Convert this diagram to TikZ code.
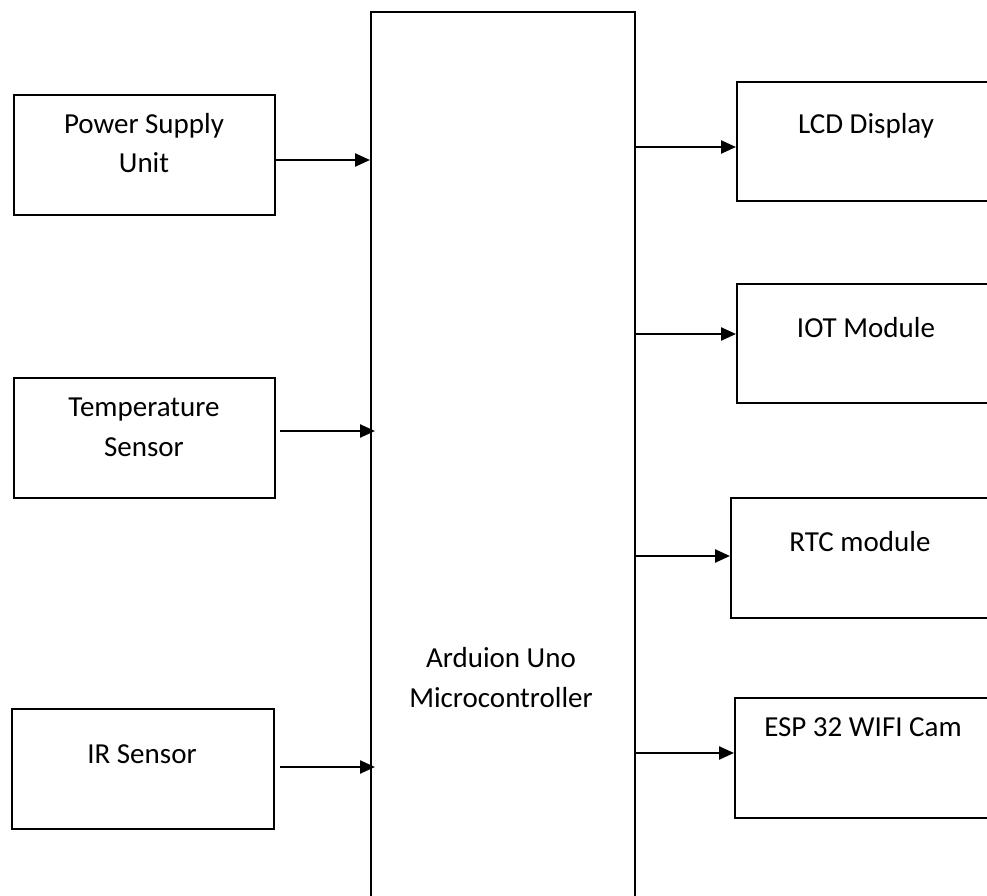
\documentclass[tikz,border=0pt]{standalone}
\usepackage{fontspec}
\setmainfont{Carlito}
\usetikzlibrary{arrows.meta}
\tikzset{
  blk/.style={draw=black, line width=2.4pt, rectangle, inner sep=0pt, anchor=north west},
  lbl/.style={anchor=base, inner sep=0pt, font=\fontsize{29}{36}\selectfont},
  arr/.style={line width=2.4pt, -{Triangle[length=15pt,width=13pt]}},
}
\begin{document}
\begin{tikzpicture}[x=1pt,y=-1pt]
\useasboundingbox (0,0) rectangle (987,896);
\clip (0,0) rectangle (987,896);
% main controller
\node[blk, minimum width=264pt, minimum height=910pt] (main) at (370,11) {};
% left blocks
\node[blk, minimum width=261pt, minimum height=120pt] (psu) at (13,94) {};
\node[blk, minimum width=261pt, minimum height=120pt] (temp) at (13,377) {};
\node[blk, minimum width=262pt, minimum height=120pt] (ir) at (11,708) {};
% right blocks (cut at the right edge)
\node[blk, minimum width=300pt, minimum height=119pt] (lcd) at (736,81) {};
\node[blk, minimum width=300pt, minimum height=119pt] (iot) at (736,283) {};
\node[blk, minimum width=300pt, minimum height=120pt] (rtc) at (730,497) {};
\node[blk, minimum width=300pt, minimum height=120pt] (esp) at (734,697) {};
% labels
\node[lbl] (psut1) at (144,134) {Power Supply};
\node[lbl] (psut2) at (144,173) {Unit};
\node[lbl] (tempt1) at (144,416) {Temperature};
\node[lbl] (tempt2) at (144,456) {Sensor};
\node[lbl] (irt) at (142,763) {IR Sensor};
\node[lbl] (maint1) at (501,667) {Arduion Uno};
\node[lbl] (maint2) at (501,707) {Microcontroller};
\node[lbl] (lcdt) at (866,134) {LCD Display};
\node[lbl] (iott) at (866,337) {IOT Module};
\node[lbl] (rtct) at (860,551) {RTC module};
\node[lbl] (espt) at (863,736) {ESP 32 WIFI Cam};
% connectors
\draw[arr] (psu.east |- 0,160) -- (main.west |- 0,160);
\draw[arr] (temp.east |- 0,431) ++(4,0) -- (main.west |- 0,431) -- ++(5,0);
\draw[arr] (ir.east |- 0,767) ++(5,0) -- (main.west |- 0,767) -- ++(5,0);
\draw[arr] (main.east |- 0,147) -- (lcd.west |- 0,147);
\draw[arr] (main.east |- 0,334) -- (iot.west |- 0,334);
\draw[arr] (main.east |- 0,556) -- (rtc.west |- 0,556);
\draw[arr] (main.east |- 0,753) -- (esp.west |- 0,753);
\end{tikzpicture}
\end{document}
